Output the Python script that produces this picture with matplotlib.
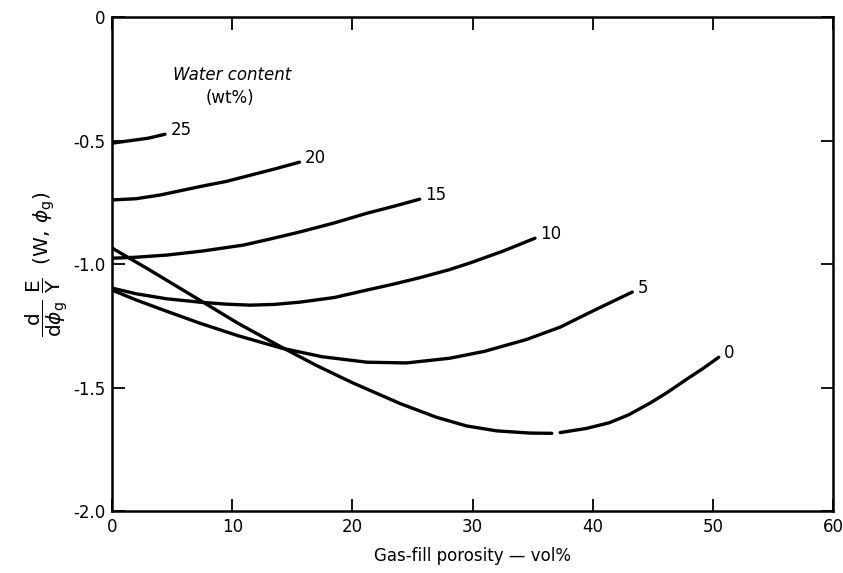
import numpy as np
import matplotlib
matplotlib.use('Agg')
import matplotlib.pyplot as plt

plt.rcParams['font.family'] = ['DejaVu Sans']
plt.rcParams['axes.unicode_minus'] = False
plt.rcParams['mathtext.fontset'] = 'dejavusans'

# ── data (gas-fill porosity vol%, d/dphi E/Y) ──
water_content = ['25', '20', '15', '10', '5', '0']

x_25 = [0.0, 1.5, 3.0, 4.4]
y_25 = [-0.51, -0.50, -0.49, -0.474]

x_20 = [0.0, 2.0, 4.0, 7.4, 9.5, 11.5, 13.5, 15.6]
y_20 = [-0.74, -0.735, -0.72, -0.685, -0.665, -0.64, -0.615, -0.587]

x_15 = [0.0, 2.0, 4.6, 7.5, 10.9, 13.0, 15.6, 18.5, 21.2, 23.5, 25.6]
y_15 = [-0.976, -0.972, -0.963, -0.947, -0.923, -0.90, -0.87, -0.833,
        -0.794, -0.765, -0.737]

x_10 = [0.0, 2.0, 4.5, 7.3, 9.5, 11.5, 13.5, 15.6, 18.5, 21.2, 23.5,
        25.6, 28.1, 29.8, 32.5, 35.2]
y_10 = [-1.097, -1.12, -1.14, -1.154, -1.162, -1.166, -1.163, -1.154,
        -1.135, -1.105, -1.08, -1.055, -1.022, -0.995, -0.948, -0.895]

x_5 = [0.0, 2.0, 4.5, 7.3, 10.5, 14.1, 17.5, 21.2, 24.5, 28.1, 31.0,
       34.5, 37.3, 40.0, 43.3]
y_5 = [-1.105, -1.145, -1.19, -1.239, -1.29, -1.34, -1.375, -1.397,
       -1.40, -1.381, -1.353, -1.305, -1.255, -1.19, -1.113]

# the published 0 wt% curve has a small break near 37 vol%
x_0 = [0.0, 3.0, 7.3, 10.5, 14.1, 17.0, 20.0, 24.0, 27.0, 29.5, 32.0,
       34.8, 36.6, np.nan, 37.3, 39.5, 41.4, 43.0, 44.8, 46.2, 47.8,
       49.2, 50.5]
y_0 = [-0.935, -1.02, -1.146, -1.24, -1.336, -1.41, -1.48, -1.565,
       -1.62, -1.655, -1.675, -1.684, -1.685, np.nan, -1.682, -1.665,
       -1.642, -1.61, -1.562, -1.52, -1.467, -1.422, -1.377]

xs = [x_25, x_20, x_15, x_10, x_5, x_0]
ys = [y_25, y_20, y_15, y_10, y_5, y_0]

x_ticks = [0, 10, 20, 30, 40, 50, 60]
y_ticks = [0.0, -0.5, -1.0, -1.5, -2.0]
y_tick_labels = ['0', '-0.5', '-1.0', '-1.5', '-2.0']


fig, ax = plt.subplots(figsize=(8.43, 5.73), dpi=100)
fig.subplots_adjust(left=0.133, right=0.988, top=0.970, bottom=0.108)

for lbl, x, y in zip(water_content, xs, ys):
    ax.plot(x, y, color='black', lw=2.4, solid_capstyle='round')
    ax.annotate(lbl, (x[-1], y[-1]), xytext=(4, 3), textcoords='offset points',
                ha='left', va='center', fontsize=12)

ax.text(10.0, -0.235, 'Water content', style='italic', fontsize=12,
        ha='center', va='center')
ax.text(9.8, -0.326, '(wt%)', fontsize=12, ha='center', va='center')

ax.set_xlim(0, 60)
ax.set_ylim(-2.0, 0)
ax.set_xticks(x_ticks)
ax.set_yticks(y_ticks)
ax.set_yticklabels(y_tick_labels)
ax.tick_params(direction='in', top=True, right=True, length=9, width=1.3,
               labelsize=12, pad=5)
for s in ax.spines.values():
    s.set_linewidth(1.8)

ax.set_xlabel('Gas-fill porosity — vol%', fontsize=12, labelpad=8)
ax.set_ylabel(r'$\dfrac{\mathrm{d}}{\mathrm{d}\phi_\mathrm{g}}\ '
              r'\dfrac{\mathrm{E}}{\mathrm{Y}}\ \ (\mathrm{W},\,\phi_\mathrm{g})$',
              fontsize=14.5, labelpad=2)

fig.savefig('out.png', dpi=100)
